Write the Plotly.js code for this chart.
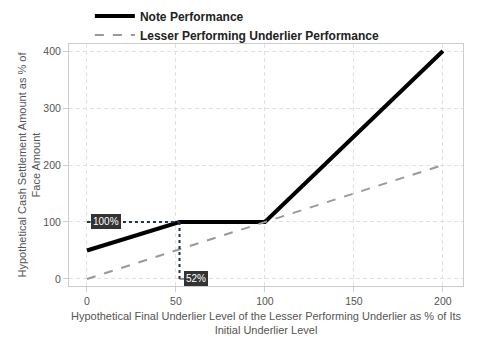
<!DOCTYPE html>
<html><head><meta charset="utf-8">
<script src="https://cdn.plot.ly/plotly-3.0.1.min.js"></script>
<style>html,body{margin:0;padding:0;background:#fff}#chart{width:480px;height:360px}</style>
</head><body><div id="chart"></div>
<script>
const underlierLevel = [0, 52, 100, 200];
const notePerformance = [50, 100, 100, 400];
const lesserLevel = [0, 200];
const lesserPerformance = [0, 200];
const thresholdX = 52;
const thresholdY = 100;
const xTicks = [0, 50, 100, 150, 200];
const yTicks = [0, 100, 200, 300, 400];

const traces = [
  {x: underlierLevel, y: notePerformance, mode: 'lines', name: 'Note Performance',
   line: {color: '#000', width: 4}},
  {x: lesserLevel, y: lesserPerformance, mode: 'lines', name: 'Lesser Performing Underlier Performance',
   line: {color: '#999', width: 2, dash: 'dash'}},
  {x: [0, thresholdX], y: [thresholdY, thresholdY], mode: 'lines', showlegend: false, hoverinfo: 'skip',
   line: {color: '#263248', width: 2, dash: 'dot'}},
  {x: [thresholdX, thresholdX], y: [thresholdY, 0], mode: 'lines', showlegend: false, hoverinfo: 'skip',
   line: {color: '#263248', width: 2, dash: 'dot'}}
];

const axisCommon = {
  showline: true, mirror: true, linecolor: '#ccc', linewidth: 1,
  gridcolor: '#e0e0e0', griddash: '4px,3px', zeroline: false,
  ticks: 'outside', ticklen: 5, tickcolor: '#ccd',
  tickfont: {family: 'Liberation Sans, Arial', size: 10.5, color: '#555'}
};

const layout = {
  width: 480, height: 360,
  margin: {l: 69, r: 17, t: 44, b: 74, autoexpand: false},
  paper_bgcolor: '#fff', plot_bgcolor: '#fff',
  font: {family: 'Liberation Sans, Arial', color: '#555'},
  xaxis: Object.assign({}, axisCommon, {
    range: [-10.1, 211.3], tickvals: xTicks,
    title: {text: 'Hypothetical Final Underlier Level of the Lesser Performing Underlier as % of Its<br>Initial Underlier Level',
            font: {size: 11, color: '#555'}, standoff: 6}
  }),
  yaxis: Object.assign({}, axisCommon, {
    range: [-12.3, 412.3], tickvals: yTicks,
    title: {text: 'Hypothetical Cash Settlement Amount as % of<br>Face Amount',
            font: {size: 11, color: '#555'}, standoff: 0}
  }),
  legend: {orientation: 'v', xref: 'paper', x: 0.053, xanchor: 'left',
           yref: 'container', y: 1 - 1.5/360, yanchor: 'top',
           itemwidth: 40,
           font: {family: 'Liberation Sans, Arial', size: 12, color: '#222', weight: 'bold'},
           bgcolor: 'rgba(0,0,0,0)', tracegroupgap: 0},
  annotations: [
    {x: 0, y: thresholdY, xref: 'x', yref: 'y', text: '100%', showarrow: true, arrowhead: 0,
     arrowcolor: '#333', arrowwidth: 1, ax: 19, ay: 0,
     bgcolor: '#333', bordercolor: '#333', borderpad: 1,
     font: {family: 'Liberation Sans, Arial', size: 10, color: '#fff'}},
    {x: thresholdX, y: 0, xref: 'x', yref: 'y', text: '52%', showarrow: true, arrowhead: 0,
     arrowcolor: '#333', arrowwidth: 1, ax: 16, ay: 0,
     bgcolor: '#333', bordercolor: '#333', borderpad: 1,
     font: {family: 'Liberation Sans, Arial', size: 10, color: '#fff'}}
  ]
};

Plotly.newPlot('chart', traces, layout, {displayModeBar: false, staticPlot: true});
</script></body></html>
